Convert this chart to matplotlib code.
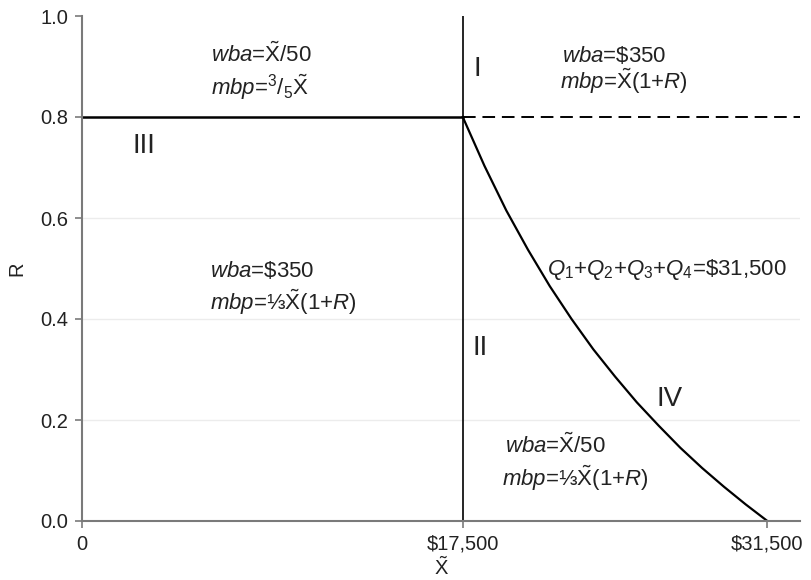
import matplotlib
matplotlib.use("Agg")
import matplotlib.pyplot as plt

plt.rcParams['font.family'] = ['Liberation Sans', 'DejaVu Sans']
plt.rcParams['mathtext.fontset'] = 'custom'
plt.rcParams['mathtext.rm'] = 'Liberation Sans'
plt.rcParams['mathtext.it'] = 'Liberation Sans:italic'
plt.rcParams['mathtext.bf'] = 'Liberation Sans:bold'

# ---- data ----
x_kink = 17500
r_kink = 0.8
x_max = 31500
xtick_values = [0, 17500, 31500]
xtick_labels = ["0", "$17,500", "$31,500"]
ytick_values = [0.0, 0.2, 0.4, 0.6, 0.8, 1.0]
ytick_labels = ["0.0", "0.2", "0.4", "0.6", "0.8", "1.0"]
grid_values = [0.2, 0.4, 0.6]
# boundary curve Q1+Q2+Q3+Q4 = $31,500
curve_x = [17500, 18500, 19500, 20500, 21500, 22500, 23500, 24500,
           25500, 26500, 27500, 28500, 29500, 30500, 31500]
curve_r = [0.800, 0.703, 0.615, 0.537, 0.465, 0.400, 0.340, 0.286,
           0.235, 0.189, 0.145, 0.105, 0.068, 0.033, 0.000]

XT = r"$\tilde{\mathrm{X}}$"
FR35 = r"${}^{3}/{}_{5}$"
labels = [
    (5924, 0.909, r"$\mathit{wba}$=" + XT + "/50", 16),
    (5924, 0.844, r"$\mathit{mbp}$=" + FR35 + XT, 16),
    (22040, 0.909, r"$\mathit{wba}$=\$350", 16),
    (21950, 0.855, r"$\mathit{mbp}$=" + XT + r"(1+$\mathit{R}$)", 16),
    (18000, 0.881, "I", 20),
    (2342, 0.729, "III", 20),
    (5878, 0.484, r"$\mathit{wba}$=\$350", 16),
    (5878, 0.418, r"$\mathit{mbp}$=⅓" + XT + r"(1+$\mathit{R}$)", 16),
    (21353, 0.487, r"$\mathit{Q}_1$+$\mathit{Q}_2$+$\mathit{Q}_3$+$\mathit{Q}_4$=\$31,500", 16),
    (17955, 0.329, "II", 20),
    (26404, 0.228, "IV", 20),
    (19424, 0.135, r"$\mathit{wba}$=" + XT + "/50", 16),
    (19286, 0.069, r"$\mathit{mbp}$=⅓" + XT + r"(1+$\mathit{R}$)", 16),
]

fig = plt.figure(figsize=(8.11, 5.80), dpi=100)
ax = fig.add_axes([82/811, 59/580, (800-82)/811, (521-16)/580])

ax.set_xlim(0, 33000)
ax.set_ylim(0, 1.0)

spine_col = '#7a7a7a'
for s in ['top', 'right']:
    ax.spines[s].set_visible(False)
for s in ['left', 'bottom']:
    ax.spines[s].set_color(spine_col)
    ax.spines[s].set_linewidth(1.5)

ax.set_xticks(xtick_values)
ax.set_xticklabels(xtick_labels)
ax.set_yticks(ytick_values)
ax.set_yticklabels(ytick_labels)
ax.tick_params(axis='both', colors=spine_col, labelcolor='#222222',
               labelsize=14.5, length=5, width=1.2, pad=5)

for g in grid_values:
    ax.axhline(g, color='#ececec', linewidth=1.0, zorder=0)

# lines
ax.plot([0, x_kink], [r_kink, r_kink], color='black', lw=1.8)
ax.plot([x_kink, 33000], [r_kink, r_kink], color='black', lw=1.4,
        linestyle=(0, (6.5, 3.5)))
ax.plot([x_kink, x_kink], [0, 1.0], color='black', lw=1.2)
ax.plot(curve_x, curve_r, color='black', lw=1.6)

for x, y, t, fs in labels:
    ax.text(x, y, t, fontsize=fs, ha='left', va='baseline', color='#222222')

ax.set_xlabel(XT, fontsize=14.5, color='#222222', labelpad=2)
ax.set_ylabel("R", fontsize=14.5, color='#222222', labelpad=10)

fig.savefig("out.png", dpi=100)
